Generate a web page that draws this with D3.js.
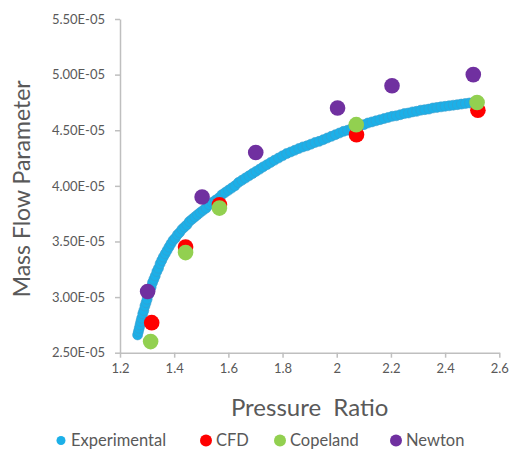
<!DOCTYPE html>
<html>
<head>
<meta charset="utf-8">
<script src="https://cdn.jsdelivr.net/npm/d3@7"></script>
<style>
  html, body { margin: 0; padding: 0; background: #fff; }
  svg { display: block; font-family: Lato, "Open Sans", sans-serif; }
</style>
</head>
<body>
<div id="chart"></div>
<script>
// 數值單位：Mass Flow Parameter × 1e-5
const expPR = [
  1.265, 1.268, 1.271, 1.274, 1.277, 1.280, 1.284, 1.288, 1.292, 1.296,
  1.300, 1.305, 1.310, 1.315, 1.320, 1.325, 1.330, 1.336, 1.342, 1.348,
  1.354, 1.360, 1.367, 1.374, 1.381, 1.388, 1.396, 1.404, 1.412, 1.420,
  1.429, 1.438, 1.447, 1.456, 1.466, 1.476, 1.486, 1.496, 1.507, 1.518,
  1.529, 1.540, 1.552, 1.564, 1.576, 1.588, 1.600, 1.612, 1.624, 1.637,
  1.650, 1.663, 1.676, 1.689, 1.702, 1.715, 1.728, 1.742, 1.756, 1.770,
  1.785, 1.800, 1.815, 1.830, 1.845, 1.860, 1.875, 1.890, 1.905, 1.920,
  1.935, 1.950, 1.965, 1.980, 1.995, 2.010, 2.025, 2.040, 2.055, 2.070,
  2.085, 2.100, 2.115, 2.130, 2.145, 2.160, 2.175, 2.190, 2.205, 2.220,
  2.235, 2.250, 2.265, 2.280, 2.295, 2.310, 2.325, 2.340, 2.355, 2.370,
  2.385, 2.400, 2.415, 2.430, 2.445, 2.460, 2.475, 2.490, 2.505, 2.520
];
const expMFP = [
  2.66, 2.69, 2.72, 2.75, 2.78, 2.81, 2.85, 2.88, 2.92, 2.95,
  2.98, 3.02, 3.06, 3.09, 3.13, 3.16, 3.19, 3.23, 3.26, 3.30,
  3.33, 3.36, 3.39, 3.42, 3.45, 3.48, 3.51, 3.53, 3.56, 3.58,
  3.61, 3.63, 3.65, 3.68, 3.70, 3.72, 3.74, 3.76, 3.78, 3.80,
  3.83, 3.85, 3.87, 3.89, 3.92, 3.94, 3.96, 3.98, 4.00, 4.03,
  4.05, 4.07, 4.09, 4.11, 4.13, 4.15, 4.17, 4.19, 4.21, 4.23,
  4.25, 4.27, 4.29, 4.305, 4.32, 4.335, 4.35, 4.36, 4.375, 4.39,
  4.40, 4.415, 4.43, 4.445, 4.46, 4.475, 4.49, 4.50, 4.515, 4.525,
  4.54, 4.55, 4.565, 4.575, 4.585, 4.595, 4.605, 4.615, 4.625, 4.63,
  4.64, 4.65, 4.655, 4.665, 4.67, 4.68, 4.685, 4.69, 4.70, 4.705,
  4.71, 4.715, 4.72, 4.725, 4.73, 4.735, 4.74, 4.745, 4.75, 4.755
];

const cfdPR = [1.317, 1.442, 1.567, 2.073, 2.521];
const cfdMFP = [2.77, 3.45, 3.83, 4.46, 4.68];

const copelandPR = [1.313, 1.442, 1.567, 2.072, 2.518];
const copelandMFP = [2.60, 3.40, 3.80, 4.55, 4.75];

const newtonPR = [1.302, 1.503, 1.701, 2.003, 2.204, 2.504];
const newtonMFP = [3.05, 3.90, 4.30, 4.70, 4.90, 5.00];

const xTicks = [1.2, 1.4, 1.6, 1.8, 2.0, 2.2, 2.4, 2.6];
const yTicks = [2.5, 3.0, 3.5, 4.0, 4.5, 5.0, 5.5];

const seriesNames = ["Experimental", "CFD", "Copeland", "Newton"];

function drawMassFlowChart(containerId) {
  const width = 509, height = 450;
  const plot = { left: 120, right: 499.3, top: 19, bottom: 352.7 };
  const axisColor = "#bfbfbf";
  const textColor = "#595959";

  const colorMap = {
    "Experimental": "#1cb0e8",
    "CFD": "#ff0000",
    "Copeland": "#92d050",
    "Newton": "#7030a0"
  };

  const svg = d3.select(`#${containerId}`)
    .append("svg")
    .attr("width", width)
    .attr("height", height);

  const x = d3.scaleLinear().domain([1.2, 2.6]).range([plot.left, plot.right]);
  const y = d3.scaleLinear().domain([2.5, 5.5]).range([plot.bottom, plot.top]);

  // 科學記號格式，如 5.50E-05
  const sci = d => {
    const [m, e] = (d * 1e-5).toExponential(2).split("e");
    const ex = +e;
    return m + "E" + (ex < 0 ? "-" : "+") + String(Math.abs(ex)).padStart(2, "0");
  };

  // X 軸
  const gx = svg.append("g")
    .attr("transform", `translate(0,${plot.bottom})`)
    .call(d3.axisBottom(x).tickValues(xTicks).tickSize(5).tickSizeOuter(0).tickPadding(6)
      .tickFormat(d => String(+d.toFixed(1))));

  // Y 軸
  const gy = svg.append("g")
    .attr("transform", `translate(${plot.left},0)`)
    .call(d3.axisLeft(y).tickValues(yTicks).tickSize(5).tickSizeOuter(0).tickPadding(10)
      .tickFormat(sci));

  [gx, gy].forEach(g => {
    g.select(".domain").attr("stroke", axisColor).attr("stroke-width", 1.5);
    g.selectAll(".tick line").attr("stroke", axisColor).attr("stroke-width", 1.5);
    g.selectAll(".tick text")
      .attr("fill", textColor)
      .attr("font-size", 13)
      .attr("font-family", "Lato, sans-serif");
  });

  // 軸標題
  svg.append("text")
    .attr("transform", `translate(30,${(plot.top + plot.bottom) / 2 + 3}) rotate(-90)`)
    .attr("text-anchor", "middle")
    .attr("fill", textColor)
    .attr("font-size", 23)
    .text("Mass Flow Parameter");

  svg.append("text")
    .attr("x", (plot.left + plot.right) / 2)
    .attr("y", 416)
    .attr("text-anchor", "middle")
    .attr("fill", textColor)
    .attr("font-size", 24)
    .style("white-space", "pre")
    .text("Pressure  Ratio");

  // 資料點
  const zip = (xs, ys) => xs.map((v, i) => ({ x: v, y: ys[i] }));

  svg.append("g")
    .selectAll("circle")
    .data(zip(expPR, expMFP))
    .enter()
    .append("circle")
    .attr("cx", d => x(d.x))
    .attr("cy", d => y(d.y))
    .attr("r", 5)
    .attr("fill", colorMap["Experimental"])
    .attr("stroke", "#3a9dcc")
    .attr("stroke-width", 0.6);

  const big = [
    ["CFD", cfdPR, cfdMFP],
    ["Copeland", copelandPR, copelandMFP],
    ["Newton", newtonPR, newtonMFP]
  ];

  big.forEach(([name, xs, ys]) => {
    svg.append("g")
      .selectAll("circle")
      .data(zip(xs, ys))
      .enter()
      .append("circle")
      .attr("cx", d => x(d.x))
      .attr("cy", d => y(d.y))
      .attr("r", 7.8)
      .attr("fill", colorMap[name]);
  });

  // 圖例
  const legendX = [61, 206, 280, 396];
  const legend = svg.append("g")
    .selectAll("g")
    .data(seriesNames)
    .enter()
    .append("g")
    .attr("transform", (d, i) => `translate(${legendX[i]},440.5)`);

  legend.append("circle")
    .attr("r", (d, i) => i === 0 ? 4.5 : 6)
    .attr("fill", d => colorMap[d]);

  legend.append("text")
    .attr("x", 10)
    .attr("y", 5.5)
    .attr("fill", textColor)
    .attr("font-size", 16.5)
    .text(d => d);
}

drawMassFlowChart("chart");
</script>
</body>
</html>
